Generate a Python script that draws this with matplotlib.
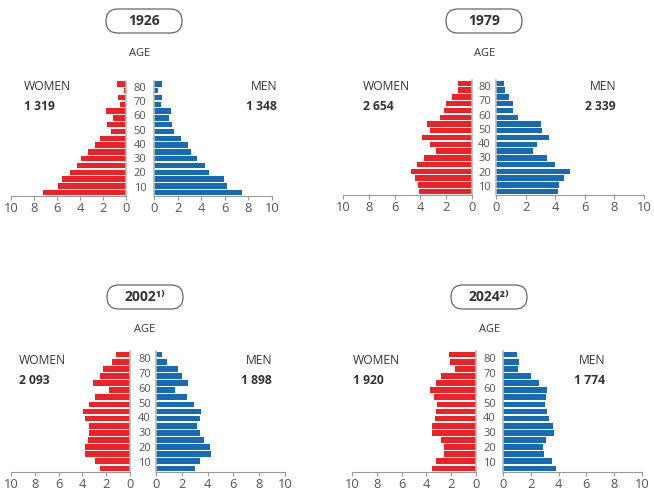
import numpy as np
import matplotlib
matplotlib.use("Agg")
import matplotlib.pyplot as plt
from matplotlib import transforms
from matplotlib.patches import FancyBboxPatch

plt.rcParams['font.family'] = ['Open Sans', 'DejaVu Sans']

# share of population (%) per 5-year age group, youngest first
women_1926 = [7.21, 5.87, 5.55, 4.91, 4.22, 3.95, 3.34, 2.73, 2.24, 1.34, 1.66, 1.13, 1.72, 0.49, 0.73, 0.20, 0.81]
men_1926 = [7.43, 6.19, 5.93, 4.66, 4.29, 3.62, 3.11, 2.91, 2.32, 1.72, 1.55, 1.24, 1.44, 0.62, 0.65, 0.31, 0.71]
women_1979 = [4.10, 4.21, 4.44, 4.70, 4.26, 3.71, 2.78, 3.27, 3.84, 3.27, 3.45, 2.49, 2.16, 2.05, 1.56, 1.12, 1.06]
men_1979 = [4.17, 4.28, 4.57, 4.98, 3.99, 3.43, 2.51, 2.80, 3.59, 3.14, 3.05, 1.46, 1.17, 1.17, 0.87, 0.58, 0.56]
women_2002 = [2.55, 2.94, 3.78, 3.81, 3.53, 3.45, 3.45, 3.75, 3.92, 3.47, 2.97, 1.76, 3.14, 2.49, 2.24, 1.48, 1.20]
men_2002 = [3.02, 3.41, 4.24, 4.19, 3.70, 3.44, 3.20, 3.41, 3.51, 2.97, 2.43, 1.45, 2.45, 1.99, 1.68, 0.83, 0.47]
women_2024 = [3.51, 3.19, 2.57, 2.55, 2.79, 3.57, 3.57, 3.32, 3.22, 3.16, 3.35, 3.70, 3.24, 2.84, 1.66, 2.06, 2.14]
men_2024 = [3.81, 3.52, 2.92, 2.89, 3.08, 3.64, 3.61, 3.28, 3.16, 3.01, 3.08, 3.18, 2.58, 2.02, 1.08, 1.13, 1.01]

years = ["1926", "1979", "2002¹⁾", "2024²⁾"]
women_totals = ["1 319", "2 654", "2 093", "1 920"]
men_totals = ["1 348", "2 339", "1 898", "1 774"]
age_labels = ["10", "20", "30", "40", "50", "60", "70", "80"]
x_ticks = [0, 2, 4, 6, 8, 10]

RED = "#ED2226"
BLUE = "#176AB4"
TXT = "#333333"
W, H = 654, 492

# panel layout in pixels
panels = [
    dict(L=(11, 126), R=(154, 272), yb=196, yt=80.5, cx=140, box=(144, 21), wx=24, mx=277, ty=87),
    dict(L=(343, 472), R=(496, 644), yb=195, yt=80, cx=484.5, box=(484, 21), wx=363, mx=616, ty=87),
    dict(L=(11, 130), R=(156, 285), yb=472, yt=351, cx=144.5, box=(145, 297), wx=19, mx=272, ty=361),
    dict(L=(352, 476), R=(503, 642), yb=472, yt=351, cx=489.5, box=(489, 297), wx=353, mx=605, ty=361),
]
women_all = [women_1926, women_1979, women_2002, women_2024]
men_all = [men_1926, men_1979, men_2002, men_2024]

fig = plt.figure(figsize=(W / 100, H / 100), dpi=100)


def style(ax, zero_side):
    for s in ['top', 'left', 'right']:
        ax.spines[s].set_visible(False)
    # light line at zero next to the bars
    ax.spines[zero_side].set_visible(True)
    ax.spines[zero_side].set_color('#bbbbbb')
    ax.spines[zero_side].set_linewidth(1.2)
    ax.spines['bottom'].set_color('#999999')
    ax.spines['bottom'].set_linewidth(0.8)
    ax.set_yticks([])
    ax.set_xticks(x_ticks)
    ax.tick_params(axis='x', length=3, width=0.8, color='#999999', labelcolor='#555555',
                   labelsize=9.3, pad=1.2)
    ax.set_ylim(-0.5, 16.5)
    ax.patch.set_alpha(0)


for i, p in enumerate(panels):
    idx = np.arange(len(women_all[i]))
    h = (p['yb'] - p['yt']) / H
    axL = fig.add_axes([p['L'][0] / W, 1 - p['yb'] / H, (p['L'][1] - p['L'][0]) / W, h])
    axR = fig.add_axes([p['R'][0] / W, 1 - p['yb'] / H, (p['R'][1] - p['R'][0]) / W, h])
    axL.barh(idx, women_all[i], height=0.8, color=RED)
    axR.barh(idx, men_all[i], height=0.8, color=BLUE)
    axL.set_xlim(10, 0)
    axR.set_xlim(0, 10)
    style(axL, 'right')
    style(axR, 'left')

    # age labels in the centre column
    tr = transforms.blended_transform_factory(fig.transFigure, axL.transData)
    for k, lab in enumerate(age_labels):
        fig.text(p['cx'] / W, 0.65 + 2.1 * k, lab, transform=tr, ha='center', va='center',
                 fontsize=8, color='#555555')

    fig.text(p['cx'] / W, 1 - (p['box'][1] + 32) / H, "AGE", ha='center', va='center',
             fontsize=8, color=TXT)

    # year in rounded box
    bx, by = p['box']
    bw, bh = 76, 24
    patch = FancyBboxPatch(((bx - bw / 2) / 100, (H - by - bh / 2) / 100), bw / 100, bh / 100,
                           boxstyle="round,pad=0,rounding_size=0.12",
                           transform=fig.dpi_scale_trans, fc='white', ec='#666666', lw=0.9)
    fig.patches.append(patch)
    fig.text(bx / W, 1 - by / H, years[i], ha='center', va='center', fontsize=10,
             fontweight='bold', color=TXT)

    fig.text(p['wx'] / W, 1 - p['ty'] / H, "WOMEN", ha='left', va='center', fontsize=8.7, color=TXT)
    fig.text(p['wx'] / W, 1 - (p['ty'] + 19) / H, women_totals[i], ha='left', va='center',
             fontsize=8.7, fontweight='bold', color=TXT)
    fig.text(p['mx'] / W, 1 - p['ty'] / H, "MEN", ha='right', va='center', fontsize=8.7, color=TXT)
    fig.text(p['mx'] / W, 1 - (p['ty'] + 19) / H, men_totals[i], ha='right', va='center',
             fontsize=8.7, fontweight='bold', color=TXT)

fig.savefig("out.png", dpi=100)
